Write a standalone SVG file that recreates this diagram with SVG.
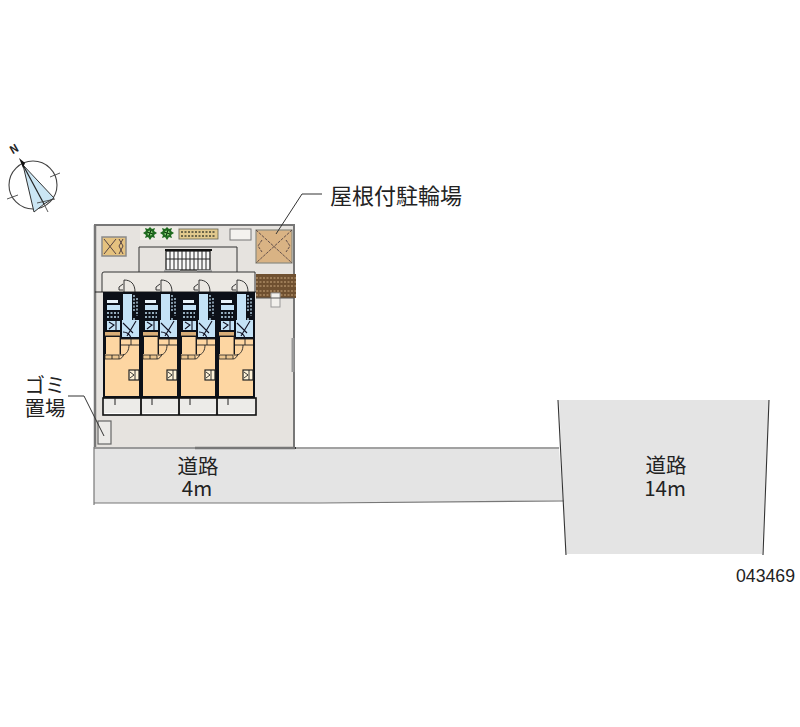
<svg xmlns="http://www.w3.org/2000/svg" width="800" height="727" viewBox="0 0 800 727">
<style>
text{font-family:"Noto Sans CJK JP","Liberation Sans",sans-serif;fill:#222}
.lbl{font-size:20.5px;text-anchor:middle}
.ln{fill:none;stroke:#333;stroke-width:1}
.thin{fill:none;stroke:#222;stroke-width:.9}
.blue{fill:#c4e2f6}
.wh{fill:#e8f3fa}
.org{fill:#fdd6a2}
.tan{fill:#d9ae78}
.pat{fill:none;stroke:#c4e2f6;stroke-width:1.3;stroke-dasharray:2 1.5}
.dk{fill:none;stroke:#112;stroke-width:1.1}
</style>
<defs>
<g id="unit">
<rect x="0" y="0" width="38" height="106" fill="#0c1018"/>
<rect x="20" y="2" width="9" height="38" class="blue"/>
<rect x="4" y="8" width="11" height="3" class="wh"/>
<rect x="4" y="13" width="13" height="5" class="blue"/>
<path class="pat" d="M4 21H16M4 25H16"/>
<path class="pat" d="M31 3V20M34 6V24M31 26V36M35 28V38"/>
<rect x="4" y="29" width="13" height="9" class="blue"/>
<path class="dk" d="M6 30L11 33L6 37M13 29V38"/>
<rect x="19" y="28" width="17" height="17" class="blue"/>
<path class="dk" d="M20 31L30 41M33 29L24 44M20 40C24 40 27 43 28 46"/>
<rect x="2" y="40" width="15" height="4" class="tan"/>
<rect x="3" y="45" width="14" height="18" class="org"/>
<rect x="18" y="47" width="18" height="15" class="org"/>
<rect x="2" y="62" width="34" height="42" class="org"/>
<path class="thin" d="M2 44H17V63M18 47H36M28 47V53H36M18 53H28M17 63H20C24 62 26 58 26 53"/>
<path d="M2 63H16V67H2Z" fill="#ecc58e" stroke="#222" stroke-width=".8"/>
<path class="thin" d="M9 63V67M16 67C18 67 20 65 21 62"/>
<rect x="26" y="78" width="10" height="10" fill="#fff3d8" stroke="#222" stroke-width="1.2"/>
<path class="thin" d="M27 80L31 83L27 86M32 78V88"/>
</g>
<g id="door">
<path class="thin" d="M0 0V-12C7 -12 11 -8 11 0M-1 -2L-5 -2V-5L-1 -8" fill="#f6f5f2"/>
</g>
<g id="tree">
<path d="M0 -6L2 -4L5 -5L4 -2L7 0L4 2L5 5L2 4L0 7L-2 4L-5 5L-4 2L-7 0L-4 -2L-5 -5L-2 -4Z" fill="#1f6b1f"/>
<circle cx="0" cy="0" r="2.6" fill="#7fc46e"/>
<path d="M-3 -1L3 1M1 -3L-1 3" stroke="#0d3d0d" fill="none"/>
</g>
</defs>
<g id="site">
<rect x="94" y="225" width="200" height="222" fill="#e6e3df"/>
<path d="M94 225H294V447" fill="none" stroke="#777" stroke-width="2"/>
<path d="M95 225V447" fill="none" stroke="#777" stroke-width="2.5"/>
<rect x="230" y="229" width="21" height="11" fill="#f4f2ef" stroke="#777"/>
<path d="M294 448H296" stroke="#222" stroke-width="2"/>
<path d="M293 338V372" stroke="#999" stroke-width="3"/>
</g>
<g id="road-4m">
<path d="M94 449H559L563 501L294 503H94Z" fill="#e4e4e4"/>
<path d="M94 448H195" stroke="#999" stroke-width="2" fill="none"/>
<path d="M195 448H295" stroke="#777" stroke-width="2.5" fill="none"/>
<path d="M295 448H559" stroke="#444" stroke-width="1" fill="none"/>
<path d="M94 503H320L564 501" stroke="#777" stroke-width="1.2" fill="none"/>
<path d="M94 447V505" stroke="#777" stroke-width="1.2" fill="none"/>
<text class="lbl" x="198" y="474">道路</text>
<text class="lbl" x="197" y="496">4m</text>
</g>
<g id="road-14m">
<path d="M559 400H769L762 554H566Z" fill="#e4e4e4"/>
<path d="M558 400L566 555M769 400L763 555" stroke="#333" stroke-width="1.1" fill="none"/>
<text class="lbl" x="666" y="473">道路</text>
<text class="lbl" x="665" y="496">14m</text>
</g>
<g id="compass">
<circle cx="33" cy="185" r="24" fill="#fff" stroke="#444" stroke-width="1.1"/>
<path d="M23 165L54 198L44 204L34 212Z" fill="#cbe6f4" stroke="#333" stroke-width="1"/>
<path d="M23 165L44 204" stroke="#222" stroke-width="1.2" fill="none"/>
<path d="M19 158L25 163L23 168Z" fill="#111"/>
<path d="M7 199L18 195M50 177L60 173M44 204L48 212M37 203L55 199" stroke="#444" stroke-width=".9" fill="none"/>
<text x="14" y="153" font-size="11" font-weight="bold" transform="rotate(-30 14 149)" text-anchor="middle">N</text>
</g>
<g id="garden">
<rect x="140" y="227" width="38" height="13" fill="#efece6"/>
<use href="#tree" x="150" y="233"/>
<use href="#tree" x="167" y="233"/>
<rect x="179" y="229" width="39" height="10" fill="#e2c98d" stroke="#665" stroke-width=".8"/>
<path d="M181 232H216M181 236H216" stroke="#443" stroke-width="1.6" stroke-dasharray="2 1.5" fill="none"/>
</g>
<g id="bin-box">
<rect x="102" y="237" width="24" height="19" fill="#e5c27f" stroke="#8a8a8a" stroke-width="1.5"/>
<path d="M104 239L116 254M116 239L104 254M119 239L123 246L119 254M123 239L119 246L123 254" stroke="#544" fill="none"/>
</g>
<g id="stairs">
<path d="M139 272V247H237V272" fill="#e6e3df" stroke="#333"/>
<rect x="166" y="251" width="44" height="19" fill="#f8f8f8" stroke="#111" stroke-width="1.2"/>
<path d="M170 251V270M174 251V270M178 251V270M182 251V270M186 251V270M190 251V270M194 251V270M198 251V270M202 251V270M206 251V270M166 259H210" stroke="#222" fill="none"/>
<path d="M165 250H212" stroke="#111" stroke-width="2"/>
<path d="M164 271H180M197 271H212" stroke="#aaa" stroke-width="2.5"/>
</g>
<g id="corridor">
<path d="M102 292V274Q102 272 104 272H255V292" fill="#ebe8e3" stroke="#333"/>
<path d="M95 292H256" stroke="#222" stroke-width="1.2"/>
</g>
<g id="bike-parking">
<rect x="256" y="230" width="36" height="33" fill="#d9b384" stroke="#8a8a80" stroke-width="1.2"/>
<path d="M256 230L292 263M292 230L256 263M262 240L258 246L262 252M286 240L290 246L286 252" stroke="#544" stroke-width=".9" fill="none" stroke-dasharray="3 1"/>
<path d="M276 234L302 194H322" class="ln"/>
<text x="330" y="204" font-size="22">屋根付駐輪場</text>
</g>
<g id="deck">
<rect x="256" y="274" width="40" height="24" fill="#6f5030"/>
<path d="M256 278H296M256 282H296M256 286H296M256 291H296M256 295H296" stroke="#caa77d" stroke-dasharray="2 1.5" fill="none"/>
<rect x="271" y="293" width="9" height="14" fill="#f2f0ec" stroke="#999"/>
<path d="M256 298H294" fill="none" stroke="#555"/>
</g>
<g id="unit-1"><use href="#door" x="124" y="292"/><use href="#unit" x="103" y="292"/></g>
<g id="unit-2"><use href="#door" x="161" y="292"/><use href="#unit" x="141" y="292"/></g>
<g id="unit-3"><use href="#door" x="199" y="292"/><use href="#unit" x="179" y="292"/></g>
<g id="unit-4"><use href="#door" x="237" y="292"/><use href="#unit" x="217" y="292"/></g>
<g id="balconies">
<rect x="103" y="398" width="153" height="17" fill="#ecebe8" stroke="#111" stroke-width="1.6"/>
<path d="M141 398V415M179 398V415M217 398V415" stroke="#111" stroke-width="1.8"/>
<path d="M115 398V405M152 398V405M190 398V405M228 398V405" stroke="#222" fill="none"/>
<path d="M105 413.5H139M143 413.5H177M181 413.5H215M219 413.5H254" stroke="#fff" fill="none"/>
</g>
<g id="garbage">
<rect x="98" y="421" width="13" height="23" fill="#ecebe8" stroke="#666" stroke-width="1.2"/>
<path d="M68 396H84L104 436" class="ln"/>
<text class="lbl" x="45" y="393">ゴミ</text>
<text class="lbl" x="45" y="416">置場</text>
</g>
<text id="code" x="736" y="582" style="font-family:'Liberation Sans',sans-serif" font-size="18" textLength="59" lengthAdjust="spacingAndGlyphs" fill="#333">043469</text>
</svg>
